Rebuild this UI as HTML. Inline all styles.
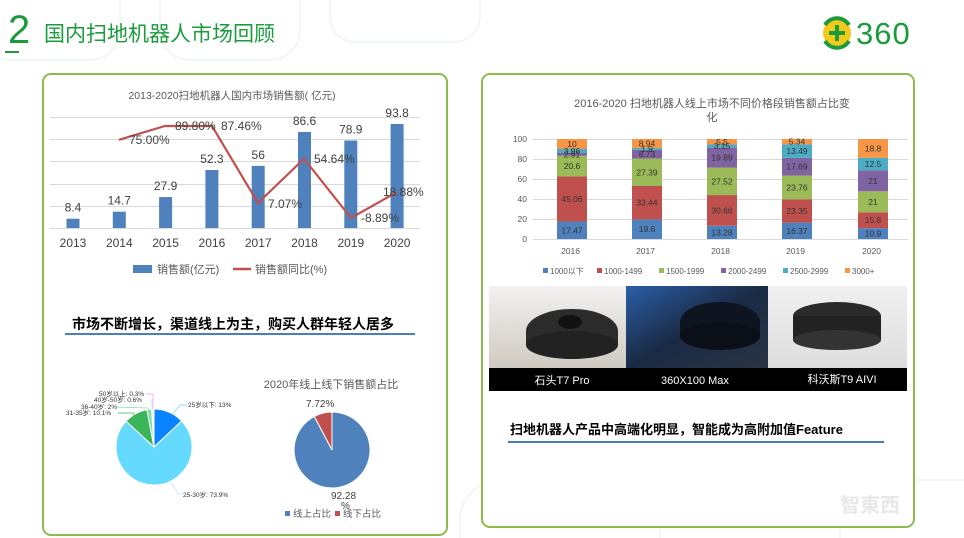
<!DOCTYPE html>
<html><head><meta charset="utf-8"><style>
html,body{margin:0;padding:0;background:#fff;width:964px;height:538px;overflow:hidden;}
svg{display:block;font-family:"Liberation Sans","Noto Sans CJK SC",sans-serif;}
</style></head><body>
<svg id="s" width="964" height="538" viewBox="0 0 964 538" xmlns="http://www.w3.org/2000/svg">
<g fill="none" stroke="#e8f5e8" stroke-width="1.2">
<rect x="-20" y="-40" width="140" height="100" rx="30"/>
<rect x="160" y="-40" width="140" height="100" rx="30"/>
<rect x="330" y="-40" width="150" height="82" rx="25"/>
<path d="M460 538 V520 A40 40 0 0 1 500 480 H620"/>
<path d="M660 538 V520 A40 40 0 0 1 700 480 H820"/>
<path d="M840 538 V520 A40 40 0 0 1 880 480 H964"/>
</g>
<text x="8" y="43" font-size="40" fill="#1a9b3c">2</text>
<rect x="5" y="51" width="14" height="2" fill="#1a9b3c"/>
<text x="44" y="41" font-size="21" fill="#1a9b3c">国内扫地机器人市场回顾</text>
<circle cx="837" cy="33" r="14" fill="#f4c91a"/>
<path d="M825 25 A14 14 0 0 1 849 25" stroke="#1a9b3c" stroke-width="4" fill="none"/>
<path d="M849 41 A14 14 0 0 1 825 41" stroke="#1a9b3c" stroke-width="4" fill="none"/>
<rect x="829" y="31" width="16" height="4" fill="#1a9b3c"/><rect x="835" y="25" width="4" height="16" fill="#1a9b3c"/>
<text x="856" y="44" font-size="31" fill="#1a9b3c" letter-spacing="1">360</text>
<rect x="43" y="74" width="404" height="461" rx="8" fill="#fff" stroke="#8dbb4c" stroke-width="2"/>
<rect x="482" y="74" width="432" height="453" rx="8" fill="#fff" stroke="#8dbb4c" stroke-width="2"/>

<text x="232" y="99" font-size="10.5" fill="#595959" text-anchor="middle">2013-2020扫地机器人国内市场销售额( 亿元)</text>
<g stroke="#d9d9d9" stroke-width="1"><line x1="50" y1="117.5" x2="420" y2="117.5"/><line x1="50" y1="139.5" x2="420" y2="139.5"/><line x1="50" y1="161.5" x2="420" y2="161.5"/><line x1="50" y1="184.5" x2="420" y2="184.5"/><line x1="50" y1="206.5" x2="420" y2="206.5"/><line x1="50" y1="228.5" x2="420" y2="228.5"/></g>
<g id="lbars" fill="#4f81bd"></g>
<g id="llab" font-size="12" fill="#404040" text-anchor="middle"></g>
<polyline points="119,139.8 165,126 212,126 258,203 304,158.7 351,218 397,192" fill="none" stroke="#c0504d" stroke-width="2.2"/>
<g font-size="12" fill="#404040">
<text x="129" y="144">75.00%</text><text x="175" y="130">89.80%</text><text x="221" y="130">87.46%</text>
<text x="268" y="208">7.07%</text><text x="314" y="163">54.64%</text><text x="361" y="222">-8.89%</text><text x="383" y="196">18.88%</text>
</g>
<rect x="133" y="265" width="19" height="8" fill="#4f81bd"/>
<text x="157" y="273" font-size="11" fill="#595959">销售额(亿元)</text>
<line x1="233" y1="269" x2="251" y2="269" stroke="#c0504d" stroke-width="2.5"/>
<text x="255" y="273" font-size="11" fill="#595959">销售额同比(%)</text>

<text x="72" y="329" font-size="14" font-weight="bold" fill="#000">市场不断增长，渠道线上为主，购买人群年轻人居多</text>
<rect x="65" y="333" width="350" height="2" fill="#4a7ebb"/>

<g stroke="#fff" stroke-width="1">
<path d="M154 447 L154 409 A38 38 0 0 1 181.7 421 Z" fill="#0a84ff"/>
<path d="M154 447 L181.7 421 A38 38 0 1 1 126.1 421.2 Z" fill="#66d9ff"/>
<path d="M154 447 L126.1 421.2 A38 38 0 0 1 146.9 409.7 Z" fill="#3bb55a"/>
<path d="M154 447 L146.9 409.7 A38 38 0 0 1 151.6 409.1 Z" fill="#7ee0a8"/>
<path d="M154 447 L151.6 409.1 A38 38 0 0 1 153 409 Z" fill="#b0e8ff"/>
<path d="M154 447 L153 409 A38 38 0 0 1 154 409 Z" fill="#ff99dd"/>
</g>
<g font-size="6.5" fill="#333">
<text x="188" y="407">25岁以下: 13%</text>
<text x="183" y="497">25-30岁: 73.9%</text>
<text x="66" y="415">31-35岁: 10.1%</text>
<text x="81" y="409">36-40岁: 2%</text>
<text x="94" y="402">40岁-50岁: 0.6%</text>
<text x="99" y="396">50岁以上: 0.3%</text>
</g>
<g fill="none" stroke-width="0.7">
<polyline points="173,414 180,405 187,405" stroke="#66d9ff"/>
<polyline points="170,480 178,494 182,494" stroke="#b0e8ff"/>
<polyline points="118,413 133,413 139,424" stroke="#3bb55a"/>
<polyline points="115,407 148,408 149,410" stroke="#7ee0a8"/>
<polyline points="150,400 152,400 152,409" stroke="#b0e8ff"/>
<polyline points="146,394 153,394 153,409" stroke="#ff99dd"/>
</g>

<text x="331" y="388" font-size="11" fill="#595959" text-anchor="middle">2020年线上线下销售额占比</text>
<g stroke="#fff" stroke-width="1">
<path d="M332 450 L332 412 A38 38 0 1 1 314.3 416.4 Z" fill="#4f81bd"/>
<path d="M332 450 L314.3 416.4 A38 38 0 0 1 332 412 Z" fill="#c0504d"/>
</g>
<text x="306" y="407" font-size="10" fill="#404040">7.72%</text>
<text x="331" y="499" font-size="10" fill="#404040">92.28</text>
<text x="341" y="509" font-size="10" fill="#404040">%</text>
<rect x="285" y="511" width="5" height="5" fill="#4f81bd"/><text x="293" y="517" font-size="9.5" fill="#595959">线上占比</text>
<rect x="335" y="511" width="5" height="5" fill="#c0504d"/><text x="343" y="517" font-size="9.5" fill="#595959">线下占比</text>

<text x="712" y="107" font-size="11" fill="#595959" text-anchor="middle">2016-2020 扫地机器人线上市场不同价格段销售额占比变</text>
<text x="712" y="121" font-size="11" fill="#595959" text-anchor="middle">化</text>
<g id="rgrid" stroke="#d9d9d9"></g>
<g id="rax" font-size="8.5" fill="#595959" text-anchor="end"></g>
<g id="rbars"></g>
<g id="rlab" font-size="8.5" fill="#333" text-anchor="middle"></g>
<g id="rleg" font-size="8" fill="#595959"></g>

<rect x="489" y="286" width="418" height="105" fill="#000"/>
<defs>
<linearGradient id="g1" x1="0" y1="0" x2="0" y2="1"><stop offset="0" stop-color="#f2f2f2"/><stop offset="1" stop-color="#cfc9c0"/></linearGradient>
<linearGradient id="g2" x1="0" y1="0" x2="1" y2="1"><stop offset="0" stop-color="#2a5fa8"/><stop offset="0.5" stop-color="#1a2a44"/><stop offset="1" stop-color="#2a3444"/></linearGradient>
<linearGradient id="g3" x1="0" y1="0" x2="0" y2="1"><stop offset="0" stop-color="#f0f0f0"/><stop offset="1" stop-color="#dedede"/></linearGradient>
</defs>
<rect x="489" y="286" width="137" height="82" fill="url(#g1)"/>
<ellipse cx="572" cy="331" rx="46" ry="22" fill="#2c2c2c"/><rect x="526" y="331" width="92" height="14" fill="#2c2c2c"/><ellipse cx="572" cy="345" rx="46" ry="14" fill="#222"/>
<ellipse cx="570" cy="322" rx="12" ry="7" fill="#111"/>
<rect x="626" y="286" width="142" height="82" fill="url(#g2)"/>
<ellipse cx="720" cy="322" rx="40" ry="20" fill="#0e1420"/><rect x="680" y="322" width="80" height="14" fill="#0e1420"/><ellipse cx="720" cy="336" rx="40" ry="14" fill="#0b0f18"/>
<rect x="768" y="286" width="139" height="82" fill="url(#g3)"/>
<ellipse cx="837" cy="316" rx="44" ry="14" fill="#2a2a2a"/><rect x="793" y="316" width="88" height="24" fill="#222"/><ellipse cx="837" cy="340" rx="44" ry="10" fill="#333"/>
<g font-size="11" fill="#fff" text-anchor="middle">
<text x="562" y="384">石头T7 Pro</text><text x="695" y="384">360X100 Max</text><text x="842" y="383">科沃斯T9 AIVI</text>
</g>
<text x="510" y="434" font-size="13" font-weight="bold" fill="#000">扫地机器人产品中高端化明显，智能成为高附加值Feature</text>
<rect x="508" y="441" width="376" height="2" fill="#4a7ebb"/>
<text x="840" y="512" font-size="20" fill="#e8e8e8" font-weight="bold">智東西</text>
</svg>
<script>
var NS="http://www.w3.org/2000/svg";
function el(p,t,a,txt){var e=document.createElementNS(NS,t);for(var k in a)e.setAttribute(k,a[k]);if(txt!=null)e.textContent=txt;document.getElementById(p).appendChild(e);}
var vals=[8.4,14.7,27.9,52.3,56,86.6,78.9,93.8],yrs=[2013,2014,2015,2016,2017,2018,2019,2020];
for(var i=0;i<8;i++){var cx=73+46.3*i,h=vals[i]*1.109;
el("lbars","rect",{x:cx-6.5,y:228-h,width:13,height:h});
el("llab","text",{x:cx,y:228-h-7},String(vals[i]));
el("llab","text",{x:cx,y:247},String(yrs[i]));}
for(var v=0;v<=100;v+=20){var y=239-v;el("rgrid","line",{x1:533,y1:y+.5,x2:908,y2:y+.5});el("rax","text",{x:527,y:y+3},String(v));}
var cols=["#4f81bd","#c0504d","#9bbb59","#8064a2","#4bacc6","#f79646"];
var D=[[17.47,45.06,20.6,2.91,3.96,10],[19.6,33.44,27.39,8.73,1.9,8.94],[13.28,30.66,27.52,19.89,3.15,5.5],[16.37,23.35,23.76,17.69,13.49,5.34],[10.9,15.8,21,21,12.5,18.8]];
var xs=[572,647,722,797,873];
for(var j=0;j<5;j++){var c=0;for(var k=0;k<6;k++){var h=D[j][k],y=239-c-h;if(k==5)h=239-c-139,y=139;
el("rbars","rect",{x:xs[j]-15,y:y,width:30,height:h,fill:cols[k]});
el("rlab","text",{x:xs[j],y:y+h/2+3},String(D[j][k]));c+=D[j][k];}
el("rax","text",{x:xs[j]+8,y:254},String(2016+j));}
var L=["1000以下","1000-1499","1500-1999","2000-2499","2500-2999","3000+"],lx=[543,597,659,721,783,845];
for(var k=0;k<6;k++){el("rleg","rect",{x:lx[k],y:268,width:5,height:5,fill:cols[k]});el("rleg","text",{x:lx[k]+7,y:274},L[k]);}
</script>
</body></html>
